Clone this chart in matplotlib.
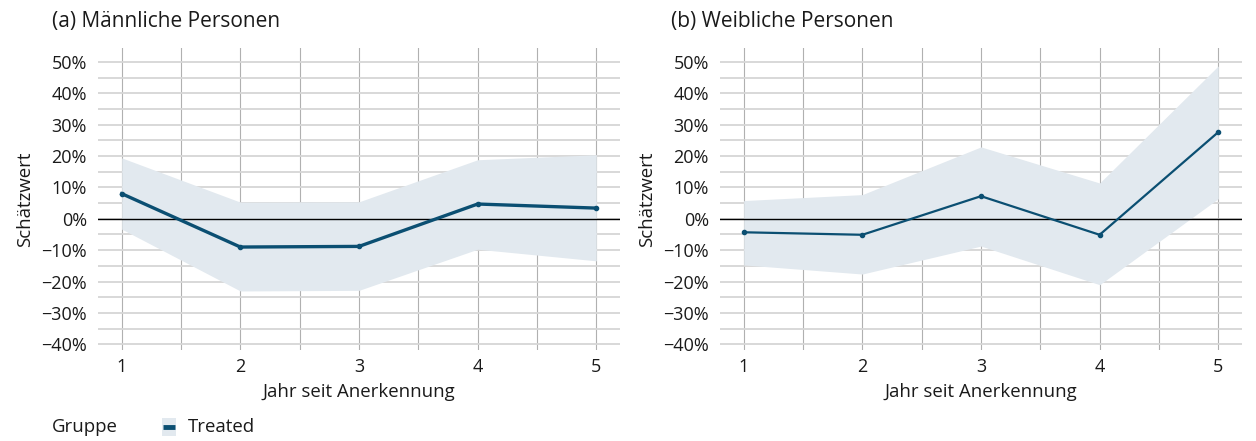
import matplotlib
matplotlib.use("Agg")
import matplotlib.pyplot as plt
from matplotlib.ticker import MultipleLocator, FuncFormatter
from matplotlib.patches import Rectangle
from matplotlib.lines import Line2D

plt.rcParams['font.family'] = ['Open Sans', 'DejaVu Sans']

years = [1, 2, 3, 4, 5]
male_est = [0.080, -0.090, -0.088, 0.047, 0.034]
male_lo = [-0.033, -0.230, -0.228, -0.097, -0.134]
male_hi = [0.194, 0.053, 0.054, 0.188, 0.204]
female_est = [-0.043, -0.051, 0.072, -0.051, 0.276]
female_lo = [-0.147, -0.176, -0.087, -0.210, 0.064]
female_hi = [0.058, 0.077, 0.229, 0.114, 0.487]
titles = ["(a) Männliche Personen", "(b) Weibliche Personen"]

LINE = "#0b4f72"
FILL = "#e2e9ef"
TEXT = "#1a1a1a"

fig = plt.figure(figsize=(12.56, 4.41), dpi=100)
W, H = 1256, 441
axes_px = [(98, 48, 620, 350), (720, 48, 1242, 350)]
panels = [(male_est, male_lo, male_hi, 2.4), (female_est, female_lo, female_hi, 1.6)]

def pct(v, pos):
    s = f"{v*100:.0f}%"
    return s.replace("-", "\u2212")

for i, ((x0, y0, x1, y1), (est, lo, hi, lw)) in enumerate(zip(axes_px, panels)):
    ax = fig.add_axes([x0 / W, 1 - y1 / H, (x1 - x0) / W, (y1 - y0) / H])
    ax.set_xlim(0.8, 5.2)
    ax.set_ylim(-0.418, 0.544)
    ax.fill_between(years, lo, hi, color=FILL, lw=0, zorder=1)
    ax.axhline(0, color="black", lw=1.0, zorder=2)
    ax.plot(years, est, color=LINE, lw=lw, marker="o", ms=3, zorder=3)
    ax.xaxis.set_major_locator(MultipleLocator(1))
    ax.xaxis.set_minor_locator(MultipleLocator(0.5))
    ax.yaxis.set_major_locator(MultipleLocator(0.1))
    ax.yaxis.set_minor_locator(MultipleLocator(0.05))
    ax.yaxis.set_major_formatter(FuncFormatter(pct))
    ax.set_yticks([v / 10 for v in range(-4, 6)])
    ax.grid(axis="x", which="both", color="#b0b0b0", lw=0.8, zorder=0)
    ax.grid(axis="y", which="both", color="#d6d6d6", lw=1.3, zorder=0)
    ax.set_axisbelow(True)
    for s in ax.spines.values():
        s.set_visible(False)
    ax.tick_params(axis="both", which="both", length=0, labelsize=13, colors=TEXT)
    ax.tick_params(axis="y", pad=8)
    ax.tick_params(axis="x", pad=6)
    ax.set_xlabel("Jahr seit Anerkennung", fontsize=13.4, color=TEXT, labelpad=5)
    ax.set_ylabel("Schätzwert", fontsize=13.4, color=TEXT, labelpad=5)
    tx = 52 if i == 0 else 671
    fig.text(tx / W, 1 - 22 / H, titles[i], fontsize=15, color=TEXT, va="center", ha="left")

# legend
fig.text(52 / W, 1 - 427 / H, "Gruppe", fontsize=13.4, color=TEXT, va="center", ha="left")
fig.patches.append(Rectangle((162 / W, 1 - 436 / H), 14 / W, 18 / H, transform=fig.transFigure,
                             facecolor=FILL, edgecolor="none"))
fig.lines.append(Line2D([163 / W, 175 / W], [1 - 427 / H, 1 - 427 / H], transform=fig.transFigure,
                        color=LINE, lw=3.5, solid_capstyle="butt"))
fig.text(188 / W, 1 - 427 / H, "Treated", fontsize=13.4, color=TEXT, va="center", ha="left")

fig.savefig("out.png", dpi=100)
